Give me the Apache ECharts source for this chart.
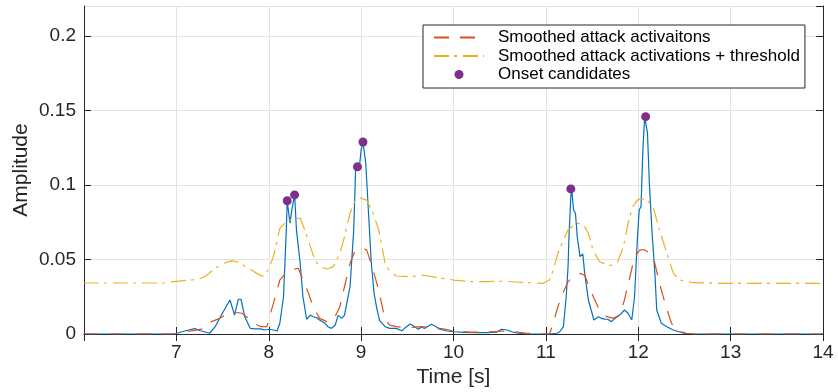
<!DOCTYPE html>
<html>
<head>
<meta charset="UTF-8">
<title>Onset candidates</title>
<script src="https://cdn.jsdelivr.net/npm/echarts@6/dist/echarts.min.js"></script>
</head>
<body style="margin:0">
<div id="chart" style="width:838px;height:392px"></div>
<script type="text/javascript">
// [time s, amplitude]
var signal=[[6.0,0],[6.98,0],[7.0,0.0005],[7.09,0.0020],[7.20,0.0036],[7.26,0.0022],[7.36,0.0005],[7.42,0.0049],
	[7.47,0.0107],[7.53,0.0174],[7.58,0.0228],[7.60,0.0233],[7.63,0.0127],[7.67,0.0233],[7.70,0.0233],[7.74,0.0116],
	[7.80,0.0038],[7.85,0.0034],[7.91,0.0034],[7.96,0.0027],[8.00,0.0032],[8.05,0.0027],[8.09,0.0020],[8.12,0.0072],
	[8.16,0.0250],[8.19,0.0698],[8.20,0.0894],[8.23,0.0743],[8.25,0.0832],[8.28,0.0933],[8.30,0.0698],[8.34,0.0476],
	[8.37,0.0250],[8.41,0.0099],[8.45,0.0127],[8.48,0.0116],[8.52,0.0109],[8.55,0.0094],[8.61,0.0072],[8.64,0.0049],
	[8.68,0.0038],[8.72,0.0060],[8.75,0.0125],[8.79,0.0105],[8.82,0.0127],[8.88,0.0317],[8.92,0.0698],[8.94,0.1100],
	[8.96,0.1127],[8.98,0.1112],[9.00,0.1235],[9.02,0.1288],[9.05,0.1147],[9.08,0.0812],[9.11,0.0476],[9.14,0.0275],
	[9.17,0.0170],[9.20,0.0090],[9.26,0.0049],[9.31,0.0038],[9.38,0.0038],[9.44,0.0022],[9.47,0.0038],[9.53,0.0067],
	[9.58,0.0049],[9.62,0.0032],[9.65,0.0045],[9.69,0.0038],[9.73,0.0054],[9.76,0.0065],[9.80,0.0054],[9.85,0.0032],
	[9.93,0.0020],[10.00,0.0015],[10.11,0.0011],[10.25,0.0009],[10.36,0.0009],[10.47,0.0013],[10.52,0.0032],[10.58,0.0027],
	[10.63,0.0015],[10.70,0.0005],[10.83,0],[11.04,0],[11.12,0.0005],[11.15,0.0015],[11.19,0.0049],[11.22,0.0250],
	[11.24,0.0450],[11.25,0.0650],[11.27,0.0920],[11.28,0.0966],[11.30,0.0832],[11.32,0.0810],[11.34,0.0650],[11.37,0.0519],
	[11.39,0.0530],[11.40,0.0537],[11.42,0.0407],[11.46,0.0228],[11.49,0.0161],[11.52,0.0094],[11.57,0.0116],[11.60,0.0105],
	[11.64,0.0100],[11.67,0.0099],[11.71,0.0083],[11.75,0.0105],[11.80,0.0127],[11.85,0.0161],[11.89,0.0139],[11.93,0.0094],
	[11.96,0.0250],[11.99,0.0631],[12.01,0.0832],[12.03,0.0854],[12.05,0.1235],[12.07,0.1458],[12.09,0.1458],[12.10,0.1347],
	[12.12,0.1011],[12.15,0.0676],[12.18,0.0407],[12.20,0.0161],[12.25,0.0072],[12.31,0.0049],[12.38,0.0027],[12.49,0.0005],
	[12.59,0],[14.0,0]];
var smoothed=[[6.0,0],[6.99,0],[7.05,0.0015],[7.19,0.0022],[7.31,0.0038],[7.38,0.0083],[7.47,0.0105],[7.56,0.0139],
	[7.63,0.0146],[7.71,0.0139],[7.78,0.0105],[7.85,0.0067],[7.92,0.0049],[7.98,0.0049],[8.01,0.0116],[8.07,0.0250],
	[8.12,0.0362],[8.18,0.0407],[8.27,0.0434],[8.32,0.0441],[8.37,0.0362],[8.43,0.0273],[8.48,0.0183],[8.55,0.0105],
	[8.63,0.0083],[8.70,0.0094],[8.77,0.0183],[8.82,0.0317],[8.88,0.0474],[8.93,0.0552],[9.01,0.0575],[9.06,0.0564],
	[9.13,0.0429],[9.19,0.0295],[9.22,0.0208],[9.26,0.0094],[9.31,0.0060],[9.38,0.0049],[9.49,0.0042],[9.64,0.0049],
	[9.78,0.0045],[9.89,0.0034],[10.00,0.0020],[10.18,0.0013],[10.36,0.0013],[10.54,0.0020],[10.65,0.0015],[10.79,0.0005],
	[10.97,0],[11.04,0],[11.08,0.0076],[11.13,0.0183],[11.19,0.0284],[11.24,0.0351],[11.28,0.0374],[11.37,0.0407],
	[11.42,0.0396],[11.48,0.0295],[11.53,0.0228],[11.58,0.0161],[11.66,0.0116],[11.73,0.0105],[11.80,0.0127],[11.85,0.0228],
	[11.91,0.0384],[11.96,0.0519],[12.02,0.0564],[12.07,0.0564],[12.13,0.0541],[12.18,0.0474],[12.23,0.0340],[12.29,0.0206],
	[12.36,0.0072],[12.41,0.0027],[12.52,0.0005],[12.60,0],[14.0,0]];
var threshold=[[6.0,0.0342],[6.87,0.0342],[6.94,0.0349],[7.08,0.0358],[7.24,0.0367],[7.31,0.0385],[7.42,0.0441],[7.53,0.0478],
	[7.60,0.0492],[7.67,0.0481],[7.78,0.0441],[7.89,0.0400],[7.93,0.0388],[7.96,0.0395],[8.01,0.0450],[8.05,0.0519],
	[8.12,0.0709],[8.19,0.0754],[8.27,0.0776],[8.34,0.0776],[8.39,0.0698],[8.45,0.0586],[8.50,0.0497],[8.55,0.0452],
	[8.63,0.0436],[8.70,0.0452],[8.77,0.0541],[8.82,0.0653],[8.88,0.0810],[8.93,0.0888],[8.99,0.0911],[9.06,0.0899],
	[9.13,0.0810],[9.19,0.0698],[9.26,0.0474],[9.31,0.0418],[9.38,0.0389],[9.53,0.0384],[9.67,0.0394],[9.82,0.0380],
	[10.00,0.0362],[10.18,0.0351],[10.36,0.0351],[10.54,0.0354],[10.72,0.0347],[10.97,0.0340],[10.99,0.0344],[11.04,0.0362],
	[11.08,0.0429],[11.13,0.0541],[11.19,0.0631],[11.24,0.0698],[11.33,0.0743],[11.40,0.0738],[11.46,0.0676],[11.51,0.0564],
	[11.58,0.0485],[11.69,0.0458],[11.77,0.0474],[11.84,0.0586],[11.89,0.0743],[11.94,0.0854],[12.00,0.0904],[12.09,0.0904],
	[12.16,0.0854],[12.23,0.0698],[12.31,0.0541],[12.38,0.0407],[12.45,0.0362],[12.59,0.0344],[12.88,0.0340],[14.0,0.0340]];
var onsets=[[8.20,0.0894],[8.28,0.0933],[8.96,0.1121],[9.02,0.1288],[11.27,0.0973],[12.08,0.1458]];

var legendNames=['Smoothed attack activaitons','Smoothed attack activations + threshold','Onset candidates'];

var ink='#262626';
var font='"Liberation Sans", Arial, sans-serif';
var mychart=echarts.init(document.getElementById('chart'));
var option={
	animation:false,
	backgroundColor:'#fff',
	textStyle:{fontFamily:font},
	grid:{left:84,right:15,top:6,bottom:58,containLabel:false,outerBoundsMode:'none'},
	legend:{
		orient:'vertical',
		left:423,top:25,
		padding:[4,5,5,10],
		itemGap:1.5,
		itemWidth:50,itemHeight:9,
		backgroundColor:'#fff',
		borderColor:ink,borderWidth:1,borderRadius:0,
		selectedMode:false,
		textStyle:{fontSize:17,color:'#000',fontFamily:font,padding:[0,0,0,9]},
		// line entries: hide the marker, keep the stroke
		data:[
			{name:legendNames[0],itemStyle:{opacity:0}},
			{name:legendNames[1],itemStyle:{opacity:0}},
			{name:legendNames[2]}
		]
	},
	xAxis:[{
		type:'value',min:6,max:14,interval:1,
		name:'Time [s]',nameLocation:'middle',nameGap:33,nameMoveOverlap:false,
		nameTextStyle:{fontSize:21,color:ink,fontFamily:font},
		axisLine:{lineStyle:{color:ink,width:1}},
		axisTick:{inside:true,length:7,lineStyle:{color:ink}},
		axisLabel:{fontSize:19,color:ink,margin:9,showMinLabel:false,fontFamily:font},
		splitLine:{show:true,lineStyle:{color:'#e3e3e3',width:1}}
	},{
		type:'value',min:6,max:14,interval:1,position:'top',
		axisLine:{show:true,lineStyle:{color:ink,width:1}},
		axisTick:{show:true,inside:true,length:7,lineStyle:{color:ink}},
		axisLabel:{show:false},splitLine:{show:false}
	}],
	yAxis:[{
		type:'value',min:0,max:0.22,interval:0.05,
		name:'Amplitude',nameLocation:'middle',nameGap:52,nameMoveOverlap:false,
		nameTextStyle:{fontSize:21,color:ink,fontFamily:font},
		axisLine:{show:true,lineStyle:{color:ink,width:1}},
		axisTick:{show:true,inside:true,length:7,lineStyle:{color:ink}},
		axisLabel:{fontSize:19,color:ink,margin:8,showMaxLabel:false,fontFamily:font},
		splitLine:{show:true,lineStyle:{color:'#e3e3e3',width:1}}
	},{
		type:'value',min:0,max:0.22,interval:0.05,position:'right',
		axisLine:{show:true,lineStyle:{color:ink,width:1}},
		axisTick:{show:true,inside:true,length:7,lineStyle:{color:ink}},
		axisLabel:{show:false},splitLine:{show:false}
	}],
	series:[{
		name:'signal',type:'line',data:signal,
		symbol:'none',showSymbol:false,
		lineStyle:{color:'#0072BD',width:1.2},
		itemStyle:{color:'#0072BD'},z:2
	},{
		name:legendNames[0],type:'line',data:smoothed,
		symbol:'none',showSymbol:false,
		lineStyle:{color:'#D95319',width:1.2,type:[15,11]},
		itemStyle:{color:'#D95319'},z:3
	},{
		name:legendNames[1],type:'line',data:threshold,
		symbol:'none',showSymbol:false,
		lineStyle:{color:'#EDB120',width:1.2,type:[15,5,3,6]},
		itemStyle:{color:'#EDB120'},z:3
	},{
		name:legendNames[2],type:'scatter',data:onsets,
		symbol:'circle',symbolSize:9,
		itemStyle:{color:'#7E2F8E',opacity:1},z:4
	}]
};
mychart.setOption(option);
</script>
</body>
</html>
